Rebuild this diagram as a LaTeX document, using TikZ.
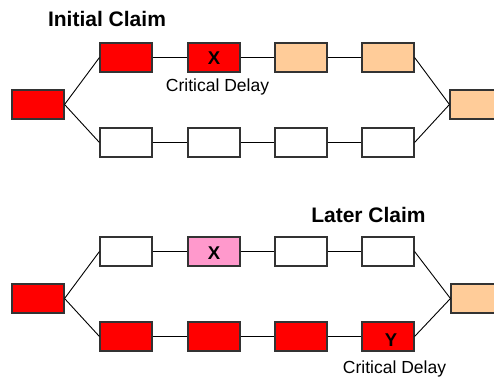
\documentclass[tikz,border=0pt]{standalone}
\usepackage{fontspec}
\setmainfont{Liberation Sans}
\definecolor{cpred}{HTML}{FF0000}
\definecolor{cppeach}{HTML}{FFCC99}
\definecolor{cppink}{HTML}{FF99CC}
\definecolor{cpedge}{HTML}{333333}
\begin{document}
\begin{tikzpicture}[x=1pt,y=-1pt,
  task/.style={draw=cpedge, line width=1.1pt, rectangle, minimum width=52pt,
               minimum height=29pt, inner sep=0pt, fill=white},
  redbox/.style={task, fill=cpred},
  peachbox/.style={task, fill=cppeach},
  pinkbox/.style={task, fill=cppink},
  link/.style={draw=black, line width=0.9pt},
  title/.style={font=\fontsize{21}{25}\selectfont\bfseries, anchor=base, inner sep=0pt},
  note/.style={font=\fontsize{17.5}{20}\selectfont, anchor=base, inner sep=0pt},
  letter/.style={font=\fontsize{18.5}{22}\selectfont\bfseries, anchor=base, inner sep=0pt}]
\useasboundingbox (0,0) rectangle (494,377);

% ---------- initial claim ----------
\node[title]    (t1) at (107,27) {Initial Claim};
\node[redbox]   (a0) at (38,104.5) {};
\node[redbox]   (a1) at (126,57.5) {};
\node[redbox]   (a2) at (214,57.5) {};
\node[peachbox] (a3) at (301,57.5) {};
\node[peachbox] (a4) at (388,57.5) {};
\node[task]     (b1) at (126,142.5) {};
\node[task]     (b2) at (214,142.5) {};
\node[task]     (b3) at (301,142.5) {};
\node[task]     (b4) at (388,142.5) {};
\node[peachbox] (a5) at (476,104.5) {};
\node[letter]   (x1) at (214,65) {X};
\node[note]     (d1) at (217.5,92) {Critical Delay};

\path[link] (a0.east) -- (a1.west);
\path[link] (a0.east) -- (b1.west);
\path[link] (a1) -- (a2) (a2) -- (a3) (a3) -- (a4);
\path[link] (b1) -- (b2) (b2) -- (b3) (b3) -- (b4);
\path[link] (a4.east) -- (a5.west);
\path[link] (b4.east) -- (a5.west);

% ---------- later claim ----------
\node[title]    (t2) at (368.5,222) {Later Claim};
\node[redbox]   (c0) at (38,298.5) {};
\node[task]     (c1) at (126,251.5) {};
\node[pinkbox]  (c2) at (214,251.5) {};
\node[task]     (c3) at (301,251.5) {};
\node[task]     (c4) at (388,251.5) {};
\node[redbox]   (e1) at (126,336.5) {};
\node[redbox]   (e2) at (214,336.5) {};
\node[redbox]   (e3) at (301,336.5) {};
\node[redbox]   (e4) at (388,336.5) {};
\node[peachbox] (c5) at (477,298.5) {};
\node[letter]   (x2) at (214,259) {X};
\node[letter]   (y2) at (391,346) {Y};
\node[note]     (d2) at (394.5,373) {Critical Delay};

\path[link] (c0.east) -- (c1.west);
\path[link] (c0.east) -- (e1.west);
\path[link] (c1) -- (c2) (c2) -- (c3) (c3) -- (c4);
\path[link] (e1) -- (e2) (e2) -- (e3) (e3) -- (e4);
\path[link] (c4.east) -- (c5.west);
\path[link] (e4.east) -- (c5.west);
\end{tikzpicture}
\end{document}
